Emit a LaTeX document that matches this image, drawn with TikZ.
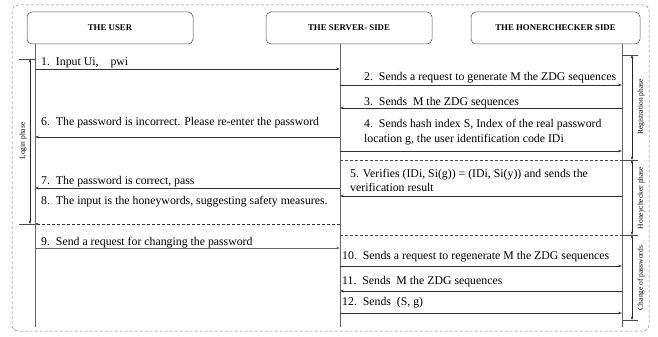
\documentclass[tikz,border=0pt]{standalone}
\usepackage{fontspec}
\setmainfont{Liberation Serif}
\usetikzlibrary{arrows.meta}
\begin{document}
\begin{tikzpicture}[x=1pt,y=-1pt,
  actor/.style={draw=black!70, rounded corners=5pt, minimum height=32pt, inner sep=0pt,
    font=\bfseries\fontsize{8.8}{10}\selectfont, line width=0.5pt},
  life/.style={draw=black!60, line width=0.6pt},
  msg/.style={draw=black!80, line width=0.5pt, -{Stealth[length=4pt,width=2.6pt]}},
  dmsg/.style={msg, dash pattern=on 3pt off 2pt},
  lbl/.style={anchor=base west, inner sep=0pt, font=\fontsize{11.8}{13}\selectfont},
  phase/.style={font=\fontsize{7.5}{8}\selectfont, rotate=90, inner sep=0pt},
  brk/.style={draw=black!85, line width=0.5pt,
    {Stealth[length=3.5pt,width=2.4pt]}-{Stealth[length=3.5pt,width=2.4pt]}},
  tick/.style={draw=black!70, line width=0.5pt},
  sep/.style={draw=black!70, line width=0.5pt, dash pattern=on 3pt off 2pt}
]
\useasboundingbox (0,0) rectangle (658,337);
% outer frame
\draw[draw=black!50, line width=0.5pt, dash pattern=on 3pt off 2pt, rounded corners=6pt]
  (12,5) rectangle (649,331);

% participants
\node[actor, minimum width=166pt] (user)   at (110,28)   {THE USER};
\node[actor, minimum width=166pt] (server) at (349,28)   {THE SERVER- SIDE};
\node[actor, minimum width=169pt] (honey)  at (555.5,28) {THE HONERCHECKER SIDE};

% lifelines
\coordinate (uT) at (35,44);  \coordinate (uB) at (35,327);
\coordinate (sT) at (340,44); \coordinate (sB) at (340,327);
\coordinate (hT) at (622,44); \coordinate (hB) at (622,327);
\draw[life] (uT) -- (uB);
\draw[life] (sT) -- (sB);
\draw[life] (hT) -- (hB);

% message rows
\coordinate (r1) at (0,69);   \coordinate (r2) at (0,85);
\coordinate (r3) at (0,108);  \coordinate (r4) at (0,151);
\coordinate (r6) at (0,137);  \coordinate (rA) at (0,160);
\coordinate (r5) at (0,196);  \coordinate (r7) at (0,188);
\coordinate (r8) at (0,224);  \coordinate (rB) at (0,235);
\coordinate (r9) at (0,248);  \coordinate (r10) at (0,266);
\coordinate (r11) at (0,291); \coordinate (r12) at (0,313);
\coordinate (rC) at (0,55);   \coordinate (rD) at (0,320);

\draw[msg] (uT |- r1) -- (sT |- r1);
\draw[msg] (sT |- r2) -- (hT |- r2);
\draw[msg] (hT |- r3) -- (sT |- r3);
\draw[msg] (sT |- r4) -- (hT |- r4);
\draw[msg] (sT |- r6) -- (uT |- r6);
\draw[msg] (hT |- r5) -- (sT |- r5);
\draw[msg] (sT |- r7) -- (uT |- r7);
\draw[dmsg] (sT |- r8) -- (uT |- r8);
\draw[msg, draw=black!60, line width=0.7pt] (uT |- r9) -- (sT |- r9);
\draw[msg] (sT |- r10) -- (hT |- r10);
\draw[msg] (hT |- r11) -- (sT |- r11);
\draw[msg] (sT |- r12) -- (hT |- r12);

% phase separators
\draw[sep] (sT |- rA) -- (hT |- rA);
\draw[sep] (sT |- rB) -- (hT |- rB);

% message texts
\node[lbl] (t1) at (41,65.5) {1.\ \ Input Ui,\hspace{12pt}pwi};
\node[lbl] (t2) at (364,80.5) {2.\ \ Sends a request to generate M the ZDG sequences};
\node[lbl] (t3) at (364,105.5) {3.\ \ Sends\ \ M the ZDG sequences};
\node[lbl] (t4a) at (364,127.5) {4.\ \ Sends hash index S, Index of the real password};
\node[lbl] (t4b) at (364,142.5) {location g, the user identification code IDi};
\node[lbl] (t6) at (41,125.5) {6.\ \ The password is incorrect. Please re-enter the password};
\node[lbl] (t5a) at (350,177.5) {5. Verifies (IDi, Si(g)) = (IDi, Si(y)) and sends the};
\node[lbl] (t5b) at (350,191.5) {verification result};
\node[lbl] (t7) at (41,184.5) {7.\ \ The password is correct, pass};
\node[lbl] (t8) at (41,204.5) {8.\ \ The input is the honeywords, suggesting safety measures.};
\node[lbl] (t9) at (41,245.5) {9.\ \ Send a request for changing the password};
\node[lbl] (t10) at (342,259.5) {10.\ \ Sends a request to regenerate M the ZDG sequences};
\node[lbl] (t11) at (342,284.5) {11.\ \ Sends\ \ M the ZDG sequences};
\node[lbl] (t12) at (342,305.5) {12.\ \ Sends\ \ (S, g)};

% login phase bracket
\coordinate (lA) at (19,59);  \coordinate (lA2) at (35,59);
\coordinate (lB) at (19,224); \coordinate (lB2) at (35,224);
\draw[tick] (lA) -- (lA2);
\draw[tick] (lB) -- (lB2);
\draw[brk] (30,59) -- (30,224);
\node[phase] (login) at (23,141) {Login phase};

% right-hand phase brackets
\draw[tick] (hT |- rC) -- (638,55);
\draw[tick] (hT |- rA) -- (638,160);
\draw[tick] (hT |- rB) -- (638,235);
\draw[tick] (hT |- rD) -- (638,320);
\draw[brk] (632,55) -- (632,160);
\draw[brk] (632,160) -- (632,235);
\draw[brk] (632,235) -- (632,320);
\node[phase] (reg) at (641,107) {Registration phase};
\node[phase] (hcp) at (641,198) {Honeychecker phase};
\node[phase] (chg) at (641,278) {Change of passwords};
\end{tikzpicture}
\end{document}
